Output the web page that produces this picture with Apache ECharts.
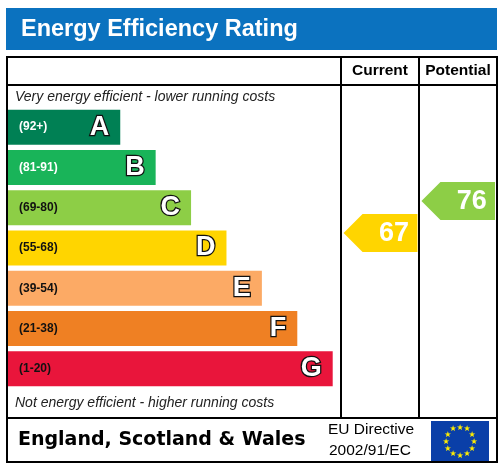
<!DOCTYPE html>
<html><head><meta charset="utf-8">
<script src="https://cdn.jsdelivr.net/npm/echarts@6/dist/echarts.min.js"></script>
<style>html,body{margin:0;padding:0;background:#fff}#c{width:502px;height:467px}</style>
</head><body><div id="c"></div>
<script>
const bands = ['A','B','C','D','E','F','G'];
const ranges = ['(92+)','(81-91)','(69-80)','(55-68)','(39-54)','(21-38)','(1-20)'];
const barLengths = [3.17,4.17,5.17,6.17,7.17,8.17,9.17];
const colors = ['#008054','#19b459','#8dce46','#ffd500','#fcaa65','#ef8023','#e9153b'];
const rangeColors = ['#fff','#fff','#111','#111','#111','#111','#111'];
const currentRating = 67, potentialRating = 76;
const currentColor = '#ffd500', potentialColor = '#8dce46';

const chart = echarts.init(document.getElementById('c'));
const F = 'Liberation Sans, Arial, sans-serif';
const stars = [];
for (let i=0;i<12;i++){const a=i*Math.PI/6;stars.push({type:'text',style:{text:'★',x:460+14*Math.cos(a),y:441.5+14*Math.sin(a),fill:'#ffed00',font:'8px DejaVu Sans',align:'center',verticalAlign:'middle'},z:10});}
function arrow(params, api){
  const x0 = api.coord([api.value(0), api.value(2)]);
  const x1 = api.coord([api.value(1), api.value(2)]);
  const h = 38, y = x0[1], tip = 19;
  const l = x0[0]+2, r = x1[0]-2;
  return {type:'group',children:[
    {type:'polygon',shape:{points:[[l,y],[l+tip,y-h/2],[r,y-h/2],[r,y+h/2],[l+tip,y+h/2]]},style:{fill:api.value(3)===0?currentColor:potentialColor}},
    {type:'text',style:{text:String(api.value(2)),x:(l+tip+r)/2+4,y:y+1,fill:'#fff',font:'bold 27px Liberation Sans, Arial',align:'center',verticalAlign:'middle'}}
  ]};
}
chart.setOption({
  animation:false,
  grid:{left:8,right:5,top:107,bottom:78},
  xAxis:{type:'value',min:0,max:13.81,show:false},
  yAxis:[{type:'category',data:bands,inverse:true,show:false},
         {type:'value',min:23.2,max:102.4,show:false}],
  series:[
    {type:'bar',yAxisIndex:0,barWidth:35,silent:true,
     data:barLengths.map((v,i)=>({value:v,itemStyle:{color:colors[i]},
       label:{show:true,position:'insideLeft',distance:11,formatter:()=>'{r|'+ranges[i]+'}',
         rich:{r:{color:rangeColors[i],fontFamily:F,fontWeight:'bold',fontSize:12}}}}))},
    {type:'bar',yAxisIndex:0,barWidth:35,barGap:'-100%',silent:true,
     data:barLengths.map((v,i)=>({value:v,itemStyle:{color:'transparent'},
       label:{show:true,position:'insideRight',distance:11,formatter:bands[i],color:'#fff',fontFamily:F,fontWeight:'bold',fontSize:27,textBorderColor:'#111',textBorderWidth:2.5}}))},
    {type:'custom',yAxisIndex:1,renderItem:arrow,encode:{x:[0,1],y:2},
     data:[[9.42,11.62,currentRating,0],[11.62,13.81,potentialRating,1]]}
  ],
  graphic:[
    {type:'rect',shape:{x:6,y:8,width:491,height:42},style:{fill:'#0b72bf'}},
    {type:'text',style:{text:'Energy Efficiency Rating',x:21,y:30,fill:'#fff',font:'bold 23.5px Liberation Sans, Arial',verticalAlign:'middle'}},
    {type:'rect',shape:{x:7,y:57,width:490,height:405},style:{fill:'none',stroke:'#000',lineWidth:2},z:5},
    {type:'line',shape:{x1:7,y1:85,x2:497,y2:85},style:{stroke:'#000',lineWidth:2},z:5},
    {type:'line',shape:{x1:7,y1:418,x2:497,y2:418},style:{stroke:'#000',lineWidth:2},z:5},
    {type:'line',shape:{x1:341,y1:57,x2:341,y2:418},style:{stroke:'#000',lineWidth:2},z:5},
    {type:'line',shape:{x1:419,y1:57,x2:419,y2:418},style:{stroke:'#000',lineWidth:2},z:5},
    {type:'text',style:{text:'Current',x:380,y:71,fill:'#000',font:'bold 15.5px Liberation Sans, Arial',align:'center',verticalAlign:'middle'}},
    {type:'text',style:{text:'Potential',x:458,y:71,fill:'#000',font:'bold 15.5px Liberation Sans, Arial',align:'center',verticalAlign:'middle'}},
    {type:'text',style:{text:'Very energy efficient - lower running costs',x:15,y:97,fill:'#222',font:'italic 14px Liberation Sans, Arial',verticalAlign:'middle'}},
    {type:'text',style:{text:'Not energy efficient - higher running costs',x:15,y:403,fill:'#222',font:'italic 14px Liberation Sans, Arial',verticalAlign:'middle'}},
    {type:'text',style:{text:'England, Scotland & Wales',x:18,y:440,fill:'#000',font:'bold 19px DejaVu Sans, Verdana',verticalAlign:'middle'}},
    {type:'text',style:{text:'EU Directive',x:328,y:430,fill:'#000',font:'15.5px Liberation Sans, Arial',verticalAlign:'middle'}},
    {type:'text',style:{text:'2002/91/EC',x:329,y:451,fill:'#000',font:'15.5px Liberation Sans, Arial',verticalAlign:'middle'}},
    {type:'rect',shape:{x:431,y:421,width:58,height:41},style:{fill:'#0a3fa8'}},
    ...stars
  ]
});
</script></body></html>
